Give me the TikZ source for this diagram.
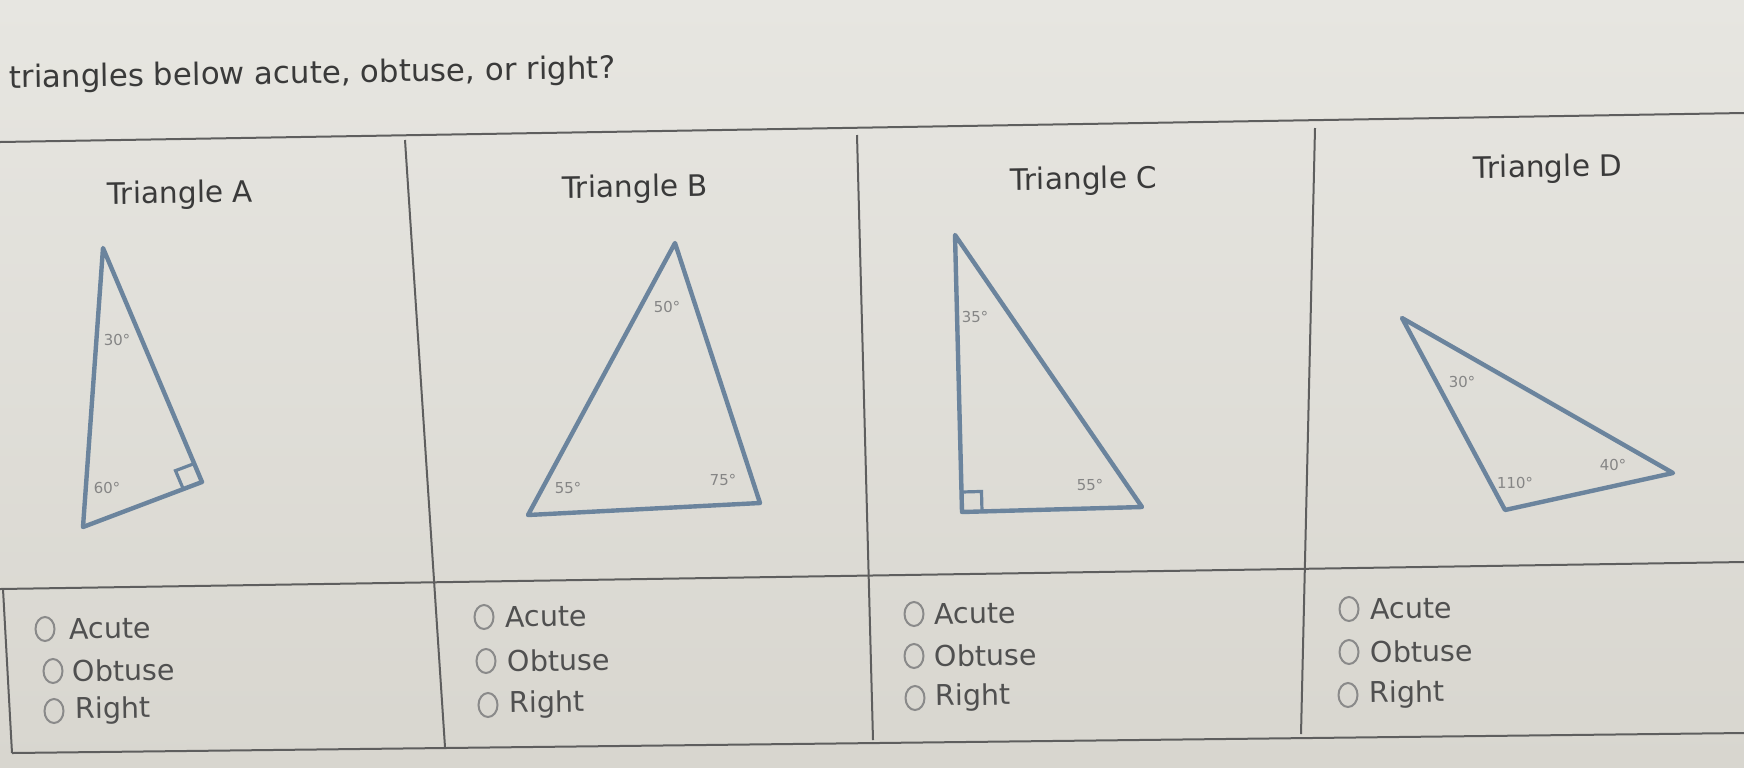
\documentclass[tikz,border=0pt]{standalone}
\usepackage{fontspec}
\setmainfont{DejaVu Sans}
\usetikzlibrary{calc,shapes.geometric}
\definecolor{paperTop}{HTML}{E7E6E1}
\definecolor{paperBot}{HTML}{D8D6CF}
\definecolor{rulegray}{HTML}{5E5E5E}
\definecolor{triblue}{HTML}{6B849D}
\definecolor{titlegray}{HTML}{3A3A3A}
\definecolor{optgray}{HTML}{505050}
\definecolor{anglegray}{HTML}{858585}
\definecolor{radiogray}{HTML}{8A8A8A}
\begin{document}
\begin{tikzpicture}[x=0.5pt,y=-0.5pt,
  tableline/.style={draw=rulegray,line width=1pt},
  tri/.style={draw=triblue,line width=2.2pt,line join=round},
  sq/.style={draw=triblue,line width=1.6pt},
  heading/.style={font=\fontsize{14.8}{17}\selectfont,text=titlegray,rotate=0.9,inner sep=0pt},
  opt/.style={font=\fontsize{14.3}{17}\selectfont,text=optgray,anchor=west,inner sep=0pt,rotate=0.9},
  radio/.style={ellipse,draw=radiogray,line width=1pt,minimum width=9.5pt,minimum height=12pt,inner sep=0pt},
  ang/.style={font=\fontsize{7.5}{8}\selectfont,text=anglegray,inner sep=0pt,rotate=0.9}]
\useasboundingbox (0,0) rectangle (1744,767);
\clip (0,0) rectangle (1744,767);
\shade[top color=paperTop,bottom color=paperBot] (0,0) rectangle (1744,767);

% title
\node[anchor=base west,font=\fontsize{15.4}{18}\selectfont,text=titlegray,inner sep=0pt,rotate=0.9] (title) at (9,88) {triangles below acute, obtuse, or right?};

% table lines
\coordinate (tl) at (0,142); \coordinate (tr) at (1744,113);
\coordinate (ml) at (0,589); \coordinate (mr) at (1744,562);
\coordinate (bl) at (12,753); \coordinate (br) at (1744,733);
\coordinate (lt) at (3,589);
\coordinate (v1t) at (405,140); \coordinate (v1b) at (445,747);
\coordinate (v2t) at (857,135); \coordinate (v2b) at (873,740);
\coordinate (v3t) at (1315,128); \coordinate (v3b) at (1301,734);
\draw[tableline] (tl) -- (tr);
\draw[tableline] (ml) -- (mr);
\draw[tableline] (bl) -- (br);
\draw[tableline] (lt) -- (bl);
\draw[tableline] (v1t) -- (v1b);
\draw[tableline] (v2t) -- (v2b);
\draw[tableline] (v3t) -- (v3b);

% headings
\node[heading] (hA) at (180,195) {Triangle A};
\node[heading] (hB) at (635,189) {Triangle B};
\node[heading] (hC) at (1084,181) {Triangle C};
\node[heading] (hD) at (1548,169) {Triangle D};

% Triangle A
\coordinate (A1) at (103,248); \coordinate (A2) at (83,527); \coordinate (A3) at (202,482);
\draw[tri] (A1) -- (A2) -- (A3) -- cycle;
\coordinate (Aq1) at ($(A3)!10pt!(A1)$); \coordinate (Aq2) at ($(A3)!10pt!(A2)$);
\draw[sq] (Aq1) -- ($(Aq1)+(Aq2)-(A3)$) -- (Aq2);
\node[ang] (a30) at (117,340) {30°};
\node[ang] (a60) at (107,488) {60°};

% Triangle B
\coordinate (B1) at (675,243); \coordinate (B2) at (528,515); \coordinate (B3) at (760,503);
\draw[tri] (B1) -- (B2) -- (B3) -- cycle;
\node[ang] (b50) at (667,307) {50°};
\node[ang] (b55) at (568,488) {55°};
\node[ang] (b75) at (723,480) {75°};

% Triangle C
\coordinate (C1) at (955,235); \coordinate (C2) at (962,512); \coordinate (C3) at (1142,507);
\draw[tri] (C1) -- (C2) -- (C3) -- cycle;
\coordinate (Cq1) at ($(C2)!10pt!(C1)$); \coordinate (Cq2) at ($(C2)!10pt!(C3)$);
\draw[sq] (Cq1) -- ($(Cq1)+(Cq2)-(C2)$) -- (Cq2);
\node[ang] (c35) at (975,317) {35°};
\node[ang] (c55) at (1090,485) {55°};

% Triangle D
\coordinate (D1) at (1402,318); \coordinate (D2) at (1505,510); \coordinate (D3) at (1673,473);
\draw[tri] (D1) -- (D2) -- (D3) -- cycle;
\node[ang] (d30) at (1462,382) {30°};
\node[ang] (d40) at (1613,465) {40°};
\node[ang] (d110) at (1515,483) {110°};

% options column A
\node[radio] (rA1) at (45,629) {};  \node[opt] (tA1) at (69,629) {Acute};
\node[radio] (rA2) at (53,671) {};  \node[opt] (tA2) at (72,671) {Obtuse};
\node[radio] (rA3) at (54,711) {};  \node[opt] (tA3) at (75,711) {Right};
% column B
\node[radio] (rB1) at (484,617) {}; \node[opt] (tB1) at (505,617) {Acute};
\node[radio] (rB2) at (486,661) {}; \node[opt] (tB2) at (507,661) {Obtuse};
\node[radio] (rB3) at (488,705) {}; \node[opt] (tB3) at (509,705) {Right};
% column C
\node[radio] (rC1) at (914,614) {}; \node[opt] (tC1) at (934,614) {Acute};
\node[radio] (rC2) at (914,656) {}; \node[opt] (tC2) at (934,656) {Obtuse};
\node[radio] (rC3) at (915,698) {}; \node[opt] (tC3) at (935,698) {Right};
% column D
\node[radio] (rD1) at (1349,609) {}; \node[opt] (tD1) at (1370,609) {Acute};
\node[radio] (rD2) at (1349,652) {}; \node[opt] (tD2) at (1370,652) {Obtuse};
\node[radio] (rD3) at (1348,695) {}; \node[opt] (tD3) at (1369,695) {Right};
\end{tikzpicture}
\end{document}
